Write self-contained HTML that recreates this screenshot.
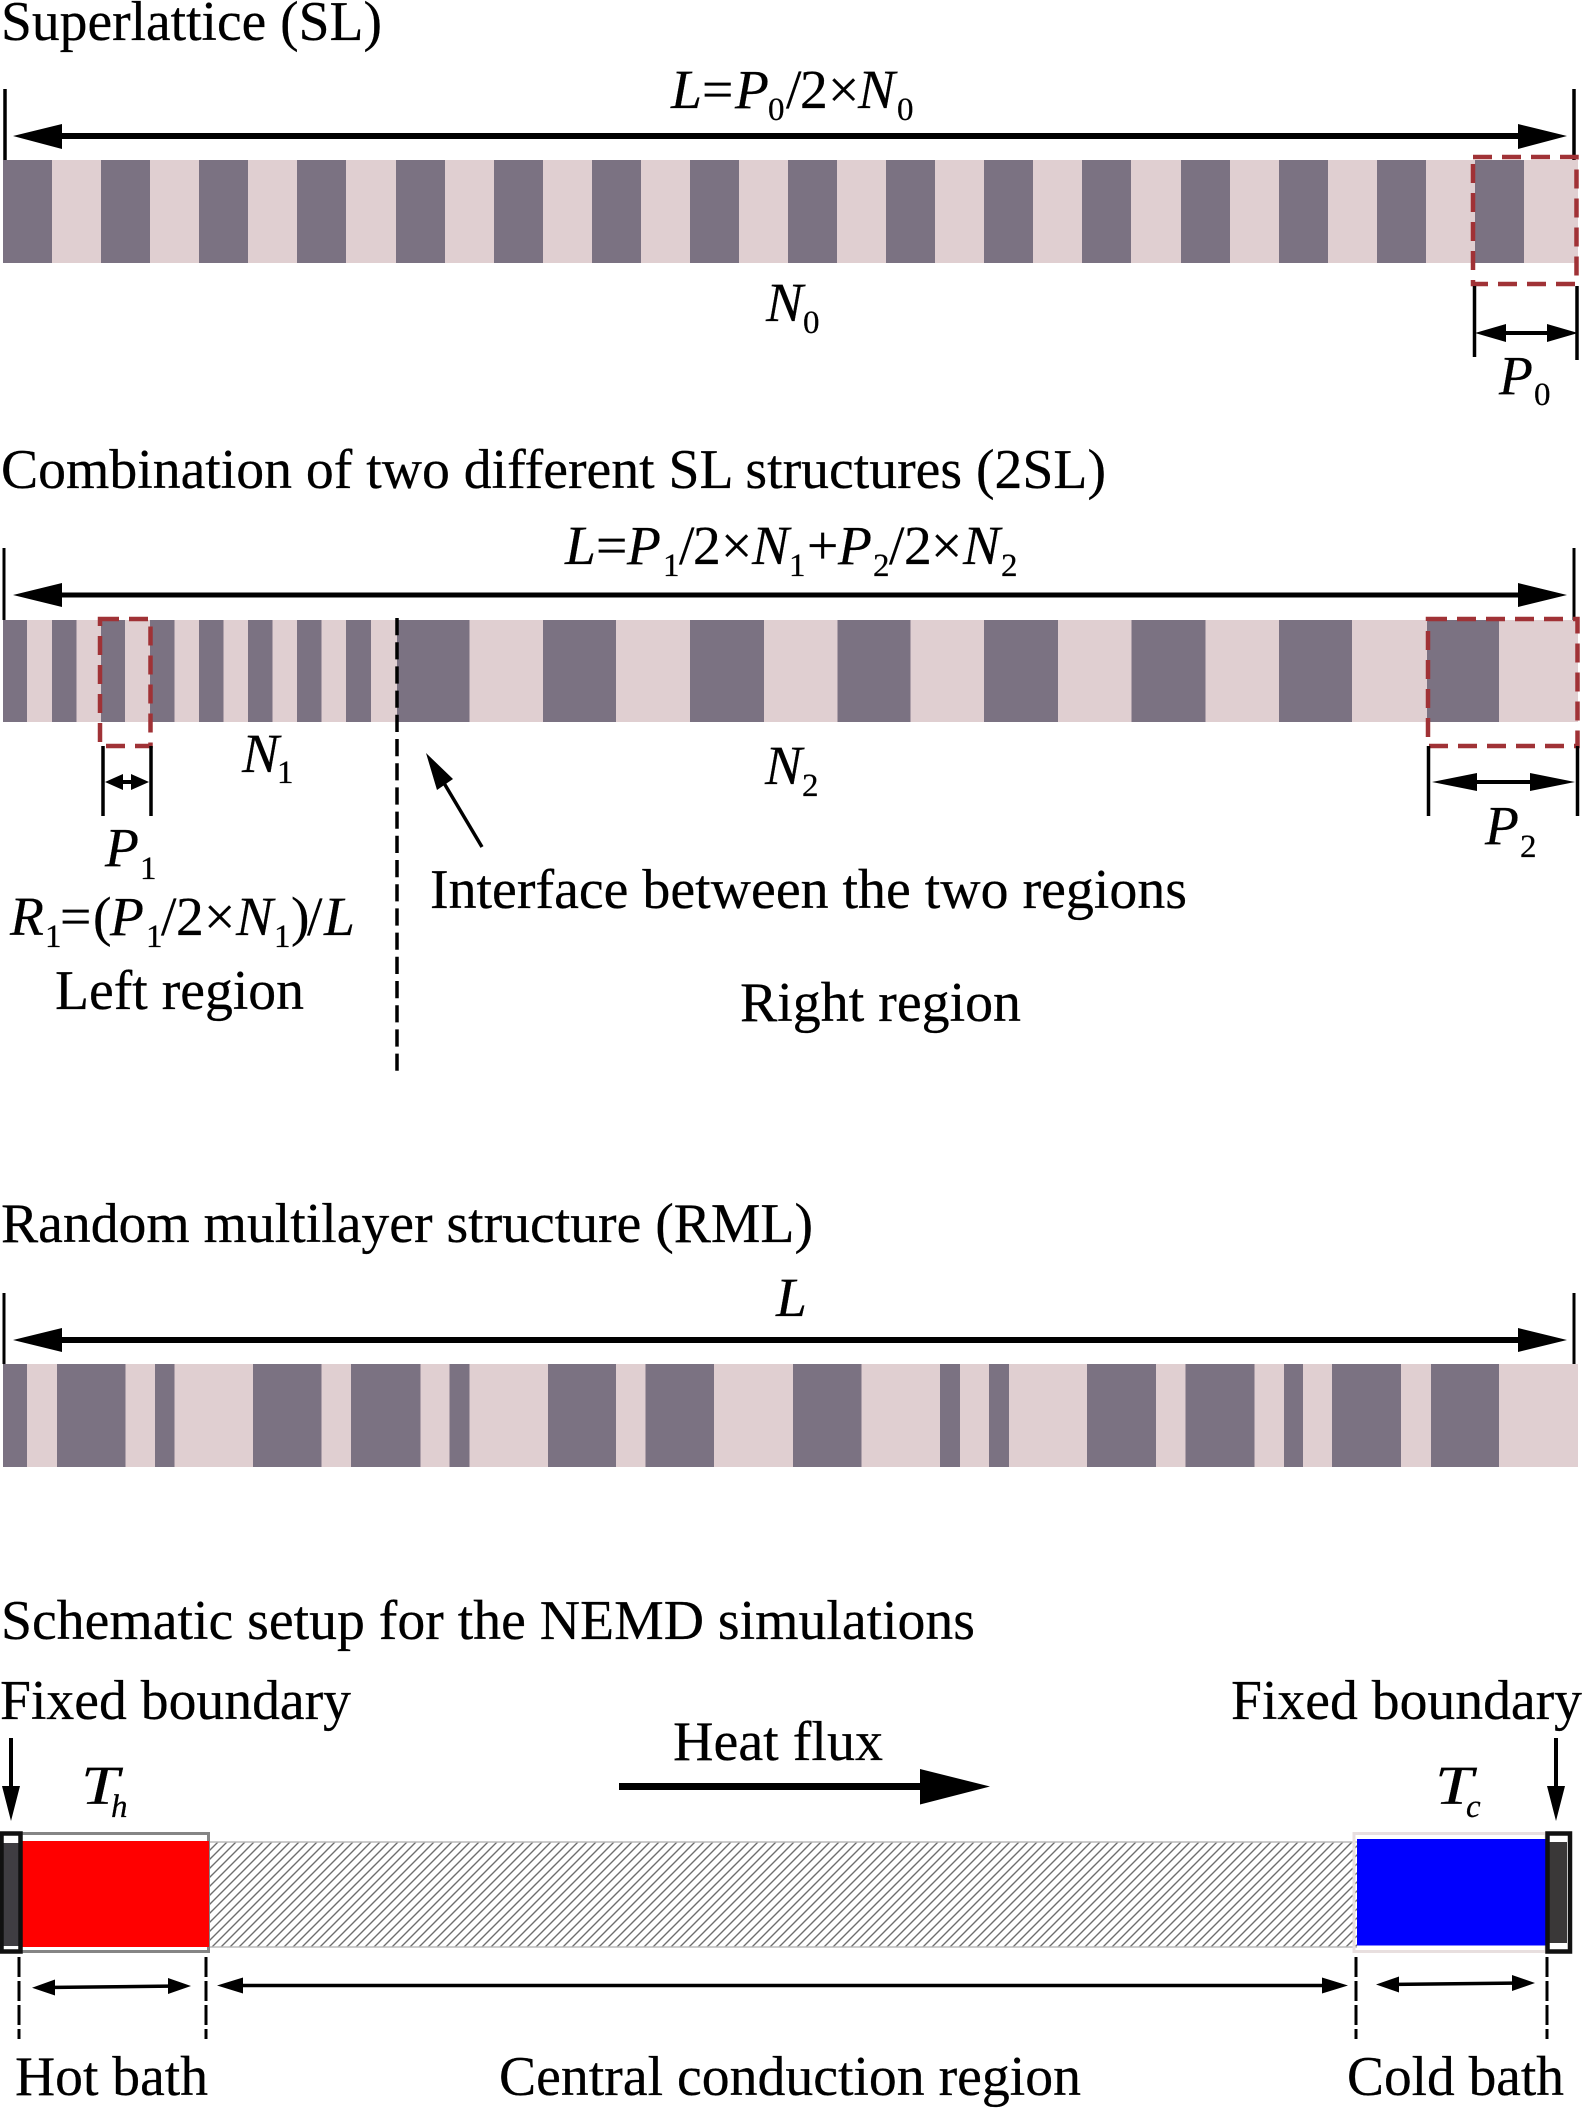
<!DOCTYPE html>
<html><head><meta charset="utf-8"><style>
html,body{margin:0;padding:0;background:#fff}
svg{display:block}
text{font-family:"Liberation Serif",serif;font-size:56px;fill:#000;stroke:#000;stroke-width:.25px}
.i{font-style:italic;font-size:55.5px}
.s{font-size:33px}
.si{font-size:33px;font-style:italic}
.m{font-size:55.5px}
</style></head><body>
<svg xmlns="http://www.w3.org/2000/svg" width="1583" height="2108" viewBox="0 0 1583 2108">
<defs>
<pattern id="h" width="9" height="9" patternUnits="userSpaceOnUse" patternTransform="translate(209 1842)">
<path d="M-2 2L2 -2M-2 11L11 -2M7 11L11 7" stroke="#6e6e6e" stroke-width="1.4"/>
</pattern>
</defs>

<!-- SL -->
<text x="1" y="40" textLength="381" lengthAdjust="spacingAndGlyphs">Superlattice (SL)</text>
<rect x="3" y="160" width="1575" height="103" fill="#e0cfd1"/>
<path fill="#7b7282" d="M3 160h49v103h-49zM101 160h49v103h-49zM199 160h49v103h-49zM297 160h49v103h-49zM396 160h49v103h-49zM494 160h49v103h-49zM592 160h49v103h-49zM690 160h49v103h-49zM788 160h49v103h-49zM886 160h49v103h-49zM984 160h49v103h-49zM1082 160h49v103h-49zM1181 160h49v103h-49zM1279 160h49v103h-49zM1377 160h49v103h-49zM1475 160h49v103h-49z"/>
<path d="M5 89V160M1574 89V160" stroke="#000" stroke-width="3.5"/>
<path d="M55 136H1525" stroke="#000" stroke-width="6"/>
<path d="M13 136L62 124V149ZM1567 136L1518 124V149Z"/>
<text class="i" x="671" y="108" textLength="31" lengthAdjust="spacingAndGlyphs">L</text><text class="m" x="702" y="108">=</text><text class="i" x="735" y="108">P</text><text class="s" x="768" y="120">0</text><text class="m" x="786" y="108">/</text><text class="m" x="800" y="108">2</text><text class="m" x="828" y="108">×</text><text class="i" x="858" y="108">N</text><text class="s" x="897" y="120">0</text>
<text class="i" x="766" y="321">N</text><text class="s" x="803" y="333">0</text>
<rect x="1473" y="157" width="103.5" height="127" fill="none" stroke="#a03236" stroke-width="4.500" stroke-dasharray="19 10"/>
<path d="M1474.5 286V357M1577 286V360" stroke="#000" stroke-width="3.5"/>
<path d="M1490 333H1560" stroke="#000" stroke-width="4"/>
<path d="M1475 333L1506 324V342ZM1578 333L1547 324V342Z"/>
<text class="i" x="1499" y="394">P</text><text class="s" x="1534" y="405">0</text>

<!-- 2SL -->
<text x="1" y="488" textLength="1105" lengthAdjust="spacingAndGlyphs">Combination of two different SL structures (2SL)</text>
<rect x="3" y="620" width="1575" height="102" fill="#e0cfd1"/>
<path fill="#7b7282" d="M3 620h24v102h-24zM52 620h24.500v102h-24.500zM101 620h24v102h-24zM150 620h24.500v102h-24.500zM199 620h24.500v102h-24.500zM248 620h24.500v102h-24.500zM297 620h24.500v102h-24.500zM346 620h25v102h-25zM397 620h72.500v102h-72.500zM543 620h73v102h-73zM690 620h74v102h-74zM837.500 620h73v102h-73zM984 620h74v102h-74zM1131.500 620h74v102h-74zM1279 620h73v102h-73zM1427 620h72v102h-72z"/>
<path d="M4 548V620M1574 548V620" stroke="#000" stroke-width="3"/>
<path d="M55 595H1525" stroke="#000" stroke-width="5"/>
<path d="M13 595L62 583V607ZM1567 595L1518 583V607Z"/>
<text class="i" x="565" y="564">L</text><text class="m" x="596" y="564">=</text><text class="i" x="627" y="564">P</text><text class="s" x="663" y="576">1</text><text class="m" x="679" y="564">/</text><text class="m" x="693" y="564">2</text><text class="m" x="721" y="564">×</text><text class="i" x="752" y="564">N</text><text class="s" x="789" y="576">1</text><text class="m" x="807" y="564">+</text><text class="i" x="838" y="564">P</text><text class="s" x="873" y="576">2</text><text class="m" x="889" y="564">/</text><text class="m" x="904" y="564">2</text><text class="m" x="931" y="564">×</text><text class="i" x="963" y="564">N</text><text class="s" x="1001" y="576">2</text>
<path d="M397 618V1071" stroke="#000" stroke-width="3.500" stroke-dasharray="17.200 7" fill="none"/>
<rect x="100" y="619" width="50.500" height="127" fill="none" stroke="#a03236" stroke-width="4.500" stroke-dasharray="19 10"/>
<rect x="1428" y="619" width="149.500" height="127" fill="none" stroke="#a03236" stroke-width="4.500" stroke-dasharray="19 10"/>
<path d="M103 746V816M151 746V816M1428.500 746V816M1577.500 746V816" stroke="#000" stroke-width="3.500"/>
<path d="M112 782H142M1450 782H1560" stroke="#000" stroke-width="4"/>
<path d="M105 782L123 774V790ZM149 782L131 774V790ZM1432 782L1477 773V791ZM1575 782L1530 773V791Z"/>
<text class="i" x="242" y="772">N</text><text class="s" x="277" y="783">1</text>
<text class="i" x="765" y="784">N</text><text class="s" x="802" y="796">2</text>
<text class="i" x="105" y="866">P</text><text class="s" x="140" y="879">1</text>
<text class="i" x="1485" y="844">P</text><text class="s" x="1520" y="857">2</text>
<text class="i" x="10" y="935">R</text><text class="s" x="45" y="947">1</text><text class="m" x="60" y="935">=</text><text class="m" x="93" y="935">(</text><text class="i" x="110" y="935">P</text><text class="s" x="146" y="947">1</text><text class="m" x="161" y="935">/</text><text class="m" x="176" y="935">2</text><text class="m" x="204" y="935">×</text><text class="i" x="236" y="935">N</text><text class="s" x="274" y="947">1</text><text class="m" x="291" y="935">)</text><text class="m" x="307" y="935">/</text><text class="i" x="324" y="935">L</text>
<text x="55" y="1009" textLength="249" lengthAdjust="spacingAndGlyphs">Left region</text>
<text x="430" y="908" textLength="757" lengthAdjust="spacingAndGlyphs">Interface between the two regions</text>
<text x="740" y="1021" textLength="281" lengthAdjust="spacingAndGlyphs">Right region</text>
<path d="M482 847L438 773" stroke="#000" stroke-width="3.500"/>
<path d="M426 753L453 779L437 790Z"/>

<!-- RML -->
<text x="1" y="1242" textLength="812" lengthAdjust="spacingAndGlyphs">Random multilayer structure (RML)</text>
<rect x="3" y="1364" width="1575" height="103" fill="#e0cfd1"/>
<path fill="#7b7282" d="M3 1364h24v103h-24zM57 1364h68.500v103h-68.500zM155 1364h19.500v103h-19.500zM253 1364h68.500v103h-68.500zM351 1364h69.500v103h-69.500zM449.500 1364h20v103h-20zM548 1364h68v103h-68zM645.500 1364h68.500v103h-68.500zM793 1364h68.500v103h-68.500zM940 1364h20v103h-20zM989 1364h20v103h-20zM1087 1364h69v103h-69zM1185.500 1364h69v103h-69zM1284 1364h19v103h-19zM1332 1364h69v103h-69zM1431 1364h68v103h-68z"/>
<path d="M4 1293V1364M1574 1293V1364" stroke="#000" stroke-width="3"/>
<path d="M55 1340H1525" stroke="#000" stroke-width="6"/>
<path d="M13 1340L62 1328V1352ZM1567 1340L1518 1328V1352Z"/>
<text class="i" x="776" y="1316">L</text>

<!-- NEMD -->
<text x="1" y="1639" textLength="974" lengthAdjust="spacingAndGlyphs">Schematic setup for the NEMD simulations</text>
<text x="0" y="1719" textLength="351" lengthAdjust="spacingAndGlyphs">Fixed boundary</text>
<text x="1231" y="1719" textLength="351" lengthAdjust="spacingAndGlyphs">Fixed boundary</text>
<text x="673" y="1760" textLength="210" lengthAdjust="spacingAndGlyphs">Heat flux</text>
<path d="M619 1786.500H925" stroke="#000" stroke-width="7"/>
<path d="M990 1786.500L920 1769V1804.500Z"/>
<path d="M11 1738V1790M1556 1738V1790" stroke="#000" stroke-width="4"/>
<path d="M11 1821L2 1786H20ZM1556 1821L1547 1786H1565Z"/>
<text class="i" x="81" y="1804" textLength="38" lengthAdjust="spacingAndGlyphs">T</text><text class="si" x="111" y="1817">h</text>
<text class="i" x="1435" y="1804" textLength="38" lengthAdjust="spacingAndGlyphs">T</text><text class="si" x="1466" y="1817">c</text>

<rect x="209" y="1842" width="1148" height="105" fill="url(#h)"/>
<path d="M209 1842H1357M209 1947H1357" stroke="#bbb" stroke-width="1.500"/>
<rect x="21" y="1833.500" width="187.500" height="118" fill="none" stroke="#858585" stroke-width="3"/>
<rect x="20" y="1841" width="189" height="106" fill="#f00"/>
<rect x="3" y="1843" width="17" height="103" fill="#3f3d42"/>
<rect x="1.500" y="1833.500" width="19" height="118" fill="none" stroke="#111" stroke-width="4.500"/>
<rect x="1354" y="1833.500" width="192" height="118" fill="none" stroke="#e8dfdf" stroke-width="3"/>
<rect x="1357" y="1839" width="189" height="106.500" fill="#00f"/>
<rect x="1547" y="1842" width="20" height="101" fill="#3a3838"/>
<rect x="1547.500" y="1833.500" width="22.500" height="118" fill="none" stroke="#111" stroke-width="4.500"/>
<path d="M19 1957V2039M206 1957V2039M1356 1957V2039M1547 1957V2039" stroke="#000" stroke-width="3" stroke-dasharray="20 4" fill="none"/>
<path d="M45 1987.500L180 1986M230 1985.500H1335M1388 1984.500L1524 1983" stroke="#000" stroke-width="3.500" fill="none"/>
<path d="M32 1987.700L55 1979.500V1995.500ZM191 1986L168 1978V1994ZM217 1985.500L243 1977.500V1993.500ZM1348 1985.500L1322 1977.500V1993.500ZM1376 1984.500L1399 1976.500V1992.500ZM1535 1983L1512 1975V1991Z"/>
<text x="15" y="2095" textLength="193" lengthAdjust="spacingAndGlyphs">Hot bath</text>
<text x="499" y="2095" textLength="582" lengthAdjust="spacingAndGlyphs">Central conduction region</text>
<text x="1347" y="2095" textLength="217" lengthAdjust="spacingAndGlyphs">Cold bath</text>
</svg>
</body></html>
